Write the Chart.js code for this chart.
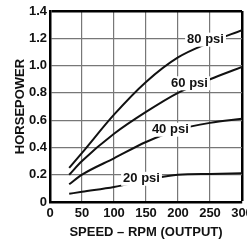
<!DOCTYPE html>
<html>
<head>
<meta charset="utf-8">
<script src="https://cdn.jsdelivr.net/npm/chart.js@4"></script>
<style>
  html, body { margin: 0; padding: 0; background: #fff; overflow: hidden; }
  .chart-wrap { width: 262px; height: 243px; }
</style>
</head>
<body>
<div class="chart-wrap">
  <canvas id="hpChart" width="262" height="243"></canvas>
</div>
<script>
const speeds = [30, 50, 100, 150, 200, 250, 300];
const psi80 = [0.25, 0.36, 0.64, 0.88, 1.06, 1.17, 1.26];
const psi60 = [0.20, 0.30, 0.50, 0.66, 0.80, 0.90, 0.99];
const psi40 = [0.13, 0.20, 0.32, 0.44, 0.53, 0.58, 0.61];
const psi20 = [0.06, 0.075, 0.11, 0.16, 0.20, 0.205, 0.21];

// where each curve label sits, in data units
const labelNames = ['80 psi', '60 psi', '40 psi', '20 psi'];
const labelX = [243, 218, 188, 143];
const labelY = [1.19, 0.87, 0.53, 0.17];

const fontFamily = "'Liberation Sans Narrow', 'Liberation Sans', Arial, sans-serif";

const toPoints = (vals) => vals.map((v, i) => ({ x: speeds[i], y: v }));

const curveLabels = {
    id: 'curveLabels',
    afterDatasetsDraw(chart) {
        const { ctx, scales } = chart;
        ctx.save();
        ctx.font = 'bold 13px ' + fontFamily;
        ctx.textAlign = 'center';
        ctx.textBaseline = 'middle';
        labelNames.forEach((name, i) => {
            const px = scales.x.getPixelForValue(labelX[i]);
            const py = scales.y.getPixelForValue(labelY[i]);
            const w = ctx.measureText(name).width;
            ctx.fillStyle = '#fff';
            ctx.fillRect(px - w / 2 - 2, py - 7, w + 4, 14);
            ctx.fillStyle = '#111';
            ctx.fillText(name, px, py);
        });
        ctx.restore();
    }
};

const lineStyle = {
    borderColor: '#111',
    borderWidth: 2,
    pointRadius: 0,
    fill: false,
    cubicInterpolationMode: 'monotone',
};

new Chart(document.getElementById('hpChart').getContext('2d'), {
    type: 'line',
    data: {
        datasets: [
            { label: '80 psi', data: toPoints(psi80), ...lineStyle },
            { label: '60 psi', data: toPoints(psi60), ...lineStyle },
            { label: '40 psi', data: toPoints(psi40), ...lineStyle },
            { label: '20 psi', data: toPoints(psi20), ...lineStyle },
        ],
    },
    options: {
        responsive: false,
        animation: false,
        devicePixelRatio: 1,
        layout: { padding: { top: 11, right: 20, left: 0, bottom: 0 } },
        plugins: {
            legend: { display: false },
            tooltip: { enabled: false },
        },
        scales: {
            x: {
                type: 'linear',
                min: 0,
                max: 300,
                afterFit: (s) => { s.height = 41; },
                ticks: {
                    stepSize: 50,
                    padding: 4,
                    color: '#111',
                    font: { family: fontFamily, weight: 'bold', size: 13 },
                },
                grid: {
                    drawTicks: false,
                    color: (c) => c.tick && c.tick.value === 300 ? '#000' : '#777',
                    lineWidth: (c) => c.tick && c.tick.value === 300 ? 2.5 : 1.2,
                },
                border: { color: '#000', width: 2.5 },
                title: {
                    display: true,
                    text: 'SPEED – RPM (OUTPUT)',
                    color: '#111',
                    padding: { top: 0, bottom: 3 },
                    font: { family: fontFamily, weight: 'bold', size: 13 },
                },
            },
            y: {
                min: 0,
                max: 1.4,
                afterFit: (s) => { s.width = 50; },
                ticks: {
                    stepSize: 0.2,
                    padding: 3,
                    color: '#111',
                    font: { family: fontFamily, weight: 'bold', size: 13 },
                    callback: (v) => v === 0 ? '0' : v.toFixed(1),
                },
                grid: {
                    drawTicks: false,
                    color: (c) => c.tick && Math.abs(c.tick.value - 1.4) < 1e-6 ? '#000' : '#777',
                    lineWidth: (c) => c.tick && Math.abs(c.tick.value - 1.4) < 1e-6 ? 2.5 : 1.2,
                },
                border: { color: '#000', width: 2.5 },
                title: {
                    display: true,
                    text: 'HORSEPOWER',
                    color: '#111',
                    padding: { top: 13, bottom: 0 },
                    font: { family: fontFamily, weight: 'bold', size: 13 },
                },
            },
        },
    },
    plugins: [curveLabels],
});
</script>
</body>
</html>
